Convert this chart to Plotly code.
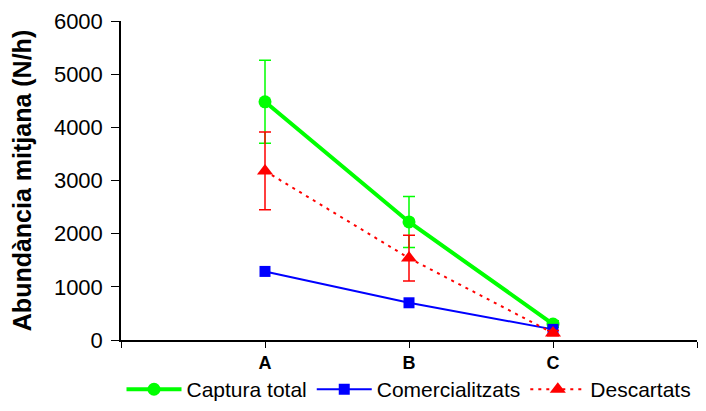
import plotly.graph_objects as go

categories = ["A", "B", "C"]
captura_total = [4480, 2220, 300]
captura_err = [780, 480, 60]
comercialitzats = [1290, 700, 200]
comercialitzats_err = [70, 50, 40]
descartats = [3180, 1540, 130]
descartats_err = [730, 430, 50]

x_pos = list(range(1, len(categories) + 1))
font_family = "Liberation Sans, Arial, sans-serif"

fig = go.Figure()
fig.add_trace(go.Scatter(
    x=x_pos, y=captura_total, name="Captura total", mode="lines+markers",
    line=dict(color="#00FF00", width=4),
    marker=dict(symbol="circle", size=13, color="#00FF00"),
    error_y=dict(type="data", array=captura_err, color="#00FF00", thickness=1.5, width=6),
))
fig.add_trace(go.Scatter(
    x=x_pos, y=comercialitzats, name="Comercialitzats", mode="lines+markers",
    line=dict(color="#0000FF", width=2),
    marker=dict(symbol="square", size=11, color="#0000FF"),
    error_y=dict(type="data", array=comercialitzats_err, color="#0000FF", thickness=1.5, width=5),
))
fig.add_trace(go.Scatter(
    x=x_pos, y=descartats, name="Descartats", mode="lines+markers",
    line=dict(color="#FF0000", width=2, dash="3px,5px"),
    marker=dict(symbol="triangle-up", size=14, color="#FF0000"),
    error_y=dict(type="data", array=descartats_err, color="#FF0000", thickness=1.5, width=6),
))

fig.update_layout(
    width=706, height=411,
    margin=dict(l=121, r=9, t=21, b=71),
    paper_bgcolor="white", plot_bgcolor="white",
    font=dict(family=font_family, color="black", size=20),
    showlegend=True,
    legend=dict(orientation="h", x=0.5, xanchor="center",
                yref="container", y=0.052, yanchor="middle",
                bgcolor="rgba(0,0,0,0)",
                font=dict(size=21), itemwidth=55, tracegroupgap=0),
    xaxis=dict(
        range=[0, len(categories) + 1],
        tickmode="array",
        tickvals=list(range(0, len(categories) + 2)),
        ticktext=[""] + categories + [""],
        ticks="outside", ticklen=6, tickwidth=1, tickcolor="black",
        showline=True, linecolor="black", linewidth=1.5,
        showgrid=False, zeroline=False, automargin=False,
        ticklabelstandoff=0,
        tickfont=dict(size=18, family=font_family, weight="bold"),
    ),
    yaxis=dict(
        range=[0, 6000],
        tickvals=[0, 1000, 2000, 3000, 4000, 5000, 6000],
        ticks="outside", ticklen=8, tickwidth=1, tickcolor="black",
        showline=True, linecolor="black", linewidth=1.5,
        showgrid=False, zeroline=False, automargin=False,
        ticklabelstandoff=4,
        tickfont=dict(size=22),
        title=dict(text="<b>Abundància mitjana (N/h)</b>", font=dict(size=25), standoff=15),
    ),
)

fig.write_html("out.html")
